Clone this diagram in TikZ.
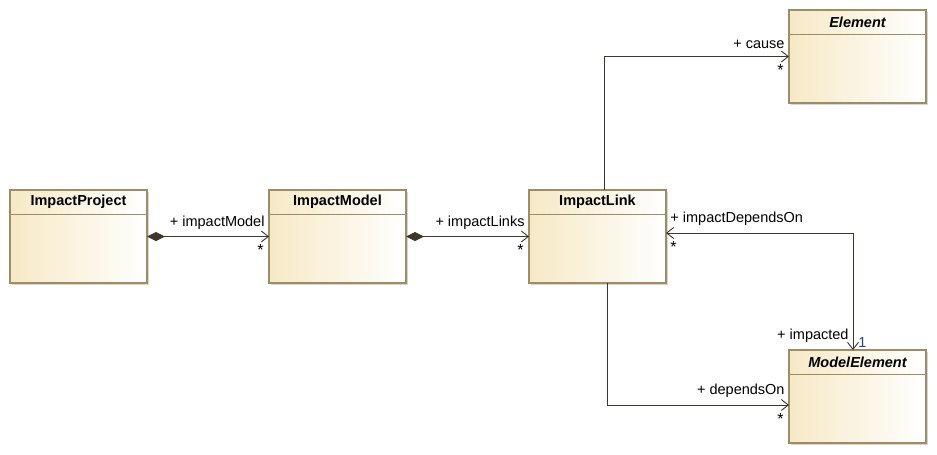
\documentclass[tikz,border=0pt]{standalone}
\usepackage{fontspec}
\setmainfont{Liberation Sans}
\usetikzlibrary{positioning, arrows.meta, shadows}
\definecolor{classfill}{RGB}{246,233,198}
\definecolor{classedge}{RGB}{160,140,100}
\definecolor{assocline}{RGB}{62,54,40}
\definecolor{multblue}{RGB}{30,70,140}

\begin{document}
\begin{tikzpicture}[x=1pt, y=-1pt,
  umlclass/.style={draw=classedge, line width=1.2pt, minimum width=137pt, minimum height=93pt,
    inner sep=0pt, outer sep=0pt, left color=classfill, right color=white,
    drop shadow={shadow xshift=2pt, shadow yshift=-2pt, fill=black!40, opacity=0.4},
    path picture={\draw[classedge, line width=0.8pt]
      ([yshift=-24pt]path picture bounding box.north west) --
      ([yshift=-24pt]path picture bounding box.north east);}},
  umltitle/.style={anchor=north, minimum height=24pt, inner sep=0pt,
    font=\fontsize{14.5}{16}\selectfont\bfseries},
  role/.style={inner sep=4pt, yshift=3pt, font=\fontsize{14.5}{16}\selectfont},
  mult/.style={inner sep=2pt, yshift=-6pt, font=\fontsize{16}{16}\selectfont},
  assoc/.style={draw=assocline, line width=0.9pt, -{Straight Barb[length=7pt, width=11pt]}},
  compose/.style={assoc, {Diamond[length=18pt, width=9pt, fill=assocline]}-{Straight Barb[length=7pt, width=11pt]}}
]
\useasboundingbox (0,0) rectangle (937,455);

\node[umlclass] (project) at (78.5,236.5) {};
\node[umlclass, right=122pt of project] (model) {};
\node[umlclass, right=123pt of model] (link) {};
\node[umlclass] (element) at (857.5,56.5) {};
\node[umlclass] (modelelement) at (857.5,396.5) {};

\node[umltitle] (projecttitle) at (project.north) {ImpactProject};
\node[umltitle] (modeltitle) at (model.north) {ImpactModel};
\node[umltitle] (linktitle) at (link.north) {ImpactLink};
\node[umltitle] (elementtitle) at (element.north) {\itshape Element};
\node[umltitle] (modelelementtitle) at (modelelement.north) {\itshape ModelElement};

\draw[compose] (project.east) -- (model.west)
  node[role, above left, pos=1] (impactmodel) {+ impactModel}
  node[mult, below left, pos=1, xshift=-3pt] (impactmodelmult) {*};
\draw[compose] (model.east) -- (link.west)
  node[role, above left, pos=1] (impactlinks) {+ impactLinks}
  node[mult, below left, pos=1, xshift=-3pt] (impactlinksmult) {*};
\draw[assoc] ([xshift=7pt]link.north) |- (element.west)
  node[role, above left, pos=1] (cause) {+ cause}
  node[mult, below left, pos=1, xshift=-3pt] (causemult) {*};
\draw[assoc] ([xshift=10pt]link.south) |- ([yshift=-8.5pt]modelelement.west)
  node[role, above left, pos=1] (dependson) {+ dependsOn}
  node[mult, below left, pos=1, xshift=-3pt] (dependsonmult) {*};
\draw[assoc, {Straight Barb[length=7pt, width=11pt]}-{Straight Barb[length=7pt, width=11pt]}]
  ([yshift=3.5pt]link.east) -| ([xshift=-4.5pt]modelelement.north)
  node[role, above right, pos=0] (impactdependson) {+ impactDependsOn}
  node[mult, below right, pos=0, xshift=2pt] (impactdependsonmult) {*}
  node[role, above left, pos=1] (impacted) {+ impacted}
  node[above right, pos=1, inner sep=2pt, xshift=3pt, text=multblue,
    font=\fontsize{14.5}{16}\selectfont] (impactedmult) {1};
\end{tikzpicture}
\end{document}
